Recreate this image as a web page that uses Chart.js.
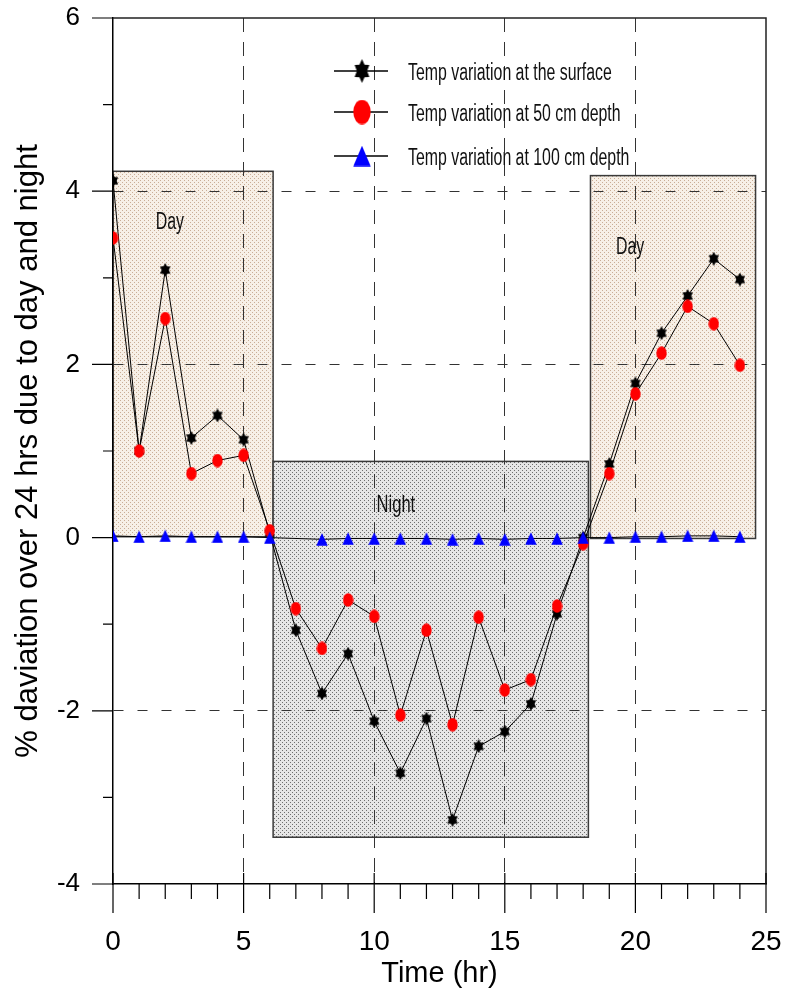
<!DOCTYPE html>
<html>
<head>
<meta charset="utf-8">
<script src="https://cdn.jsdelivr.net/npm/chart.js@4.4.1/dist/chart.umd.min.js"></script>
<style>
html,body{margin:0;padding:0;background:#fff;}
#wrap{width:786px;height:996px;position:relative;}
</style>
</head>
<body>
<div id="wrap"><canvas id="c" width="786" height="996"></canvas></div>
<script>
// ---------------- data ----------------
const hours = [0,1,2,3,4,5,6,7,8,9,10,11,12,13,14,15,16,17,18,19,20,21,22,23,24];
const surface  = [4.12,1.00,3.09,1.15,1.41,1.13,0.05,-1.07,-1.80,-1.34,-2.12,-2.72,-2.09,-3.26,-2.41,-2.24,-1.92,-0.88,0.00,0.85,1.78,2.36,2.79,3.22,2.98];
const depth50  = [3.46,1.00,2.53,0.74,0.89,0.95,0.08,-0.82,-1.28,-0.72,-0.91,-2.05,-1.07,-2.16,-0.92,-1.76,-1.64,-0.79,-0.07,0.74,1.66,2.13,2.67,2.47,1.99];
const depth100 = [0.02,0.01,0.02,0.01,0.01,0.01,0.00,null,-0.02,-0.01,-0.01,-0.01,-0.01,-0.02,-0.01,-0.02,-0.01,-0.01,0.00,0.00,0.01,0.01,0.02,0.02,0.01];
const seriesNames = ['Temp variation at the surface','Temp variation at 50 cm depth','Temp variation at 100 cm depth'];

// shaded periods (time range and value range)
const periodNames  = ['Day','Night','Day'];
const periodStart  = [0, 6.13, 18.28];
const periodEnd    = [6.13, 18.2, 24.6];
const periodTop    = [4.23, 0.88, 4.18];
const periodBottom = [0.01, -3.46, -0.01];
// label anchors (data coords)
const periodLabelX = [2.18, 10.83, 19.8];
const periodLabelY = [3.56, 0.30, 3.28];

const xTickStep = 5;
const yTickStep = 2;

// ---------------- marker images ----------------
function starImg(w,h){
  const c=document.createElement('canvas'); c.width=w; c.height=h;
  const g=c.getContext('2d'); g.fillStyle='#000';
  const cx=w/2, cy=h/2, rx=w/2, ry=h/2;
  g.beginPath();
  for(let i=0;i<12;i++){
    const a=-Math.PI/2+i*Math.PI/6; const r=(i%2===0)?1:0.6;
    g.lineTo(cx+Math.cos(a)*rx*r, cy+Math.sin(a)*ry*r);
  }
  g.closePath(); g.fill(); return c;
}
function ellipseImg(w,h){
  const c=document.createElement('canvas'); c.width=w; c.height=h;
  const g=c.getContext('2d'); g.fillStyle='#ff0000';
  g.beginPath(); g.ellipse(w/2,h/2,w/2-0.3,h/2-0.3,0,0,Math.PI*2); g.fill(); return c;
}
function triImg(w,h){
  const c=document.createElement('canvas'); c.width=w; c.height=h;
  const g=c.getContext('2d'); g.fillStyle='#0000ff';
  g.beginPath(); g.moveTo(w/2,0.3); g.lineTo(w-0.3,h-0.3); g.lineTo(0.3,h-0.3); g.closePath(); g.fill(); return c;
}
const mk = [starImg(12,14), ellipseImg(11,14), triImg(12,13)];
const mkLegend = [starImg(17,24), ellipseImg(18,25), triImg(18,21)];

function makePattern(ctx, base, dot){
  const c=document.createElement('canvas'); c.width=4; c.height=4;
  const g=c.getContext('2d'); g.fillStyle=base; g.fillRect(0,0,4,4);
  g.fillStyle=dot; g.fillRect(0,0,1,1); g.fillRect(2,2,1,1);
  return ctx.createPattern(c,'repeat');
}

const SQ = 0.69; // horizontal squeeze of annotation text
const annoFont = 'Liberation Sans, Arial, sans-serif';

const periodsPlugin = {
  id:'periods',
  beforeDraw(chart){
    const {ctx, scales:{x,y}} = chart;
    const dayFill = makePattern(ctx,'#f7f0e7','#c9ad96');
    const nightFill = makePattern(ctx,'#e6e6e6','#6e6e6e');
    for(let i=0;i<periodNames.length;i++){
      const x0=x.getPixelForValue(periodStart[i]), x1=x.getPixelForValue(periodEnd[i]);
      const y0=y.getPixelForValue(periodTop[i]), y1=y.getPixelForValue(periodBottom[i]);
      ctx.save();
      ctx.fillStyle = periodNames[i]==='Night'?nightFill:dayFill;
      ctx.fillRect(x0,y0,x1-x0,y1-y0);
      ctx.strokeStyle='#3a3a3a'; ctx.lineWidth=1.5;
      ctx.strokeRect(x0,y0,x1-x0,y1-y0);
      ctx.restore();
    }
  },
  afterDraw(chart){
    const {ctx, chartArea:a, scales:{x,y}} = chart;
    ctx.save();
    // top & right frame
    ctx.strokeStyle='#222'; ctx.lineWidth=1.5;
    ctx.beginPath(); ctx.moveTo(a.left,a.top); ctx.lineTo(a.right,a.top); ctx.lineTo(a.right,a.bottom); ctx.stroke();
    // ticks
    ctx.strokeStyle='#000'; ctx.lineWidth=1.2;
    ctx.beginPath();
    for(let v=y.min; v<=y.max; v+=1){
      const p=y.getPixelForValue(v);
      const major = (v % yTickStep)===0;
      ctx.moveTo(a.left - (major?21:10), p); ctx.lineTo(a.left, p);
    }
    for(let h=x.min; h<=x.max; h+=1){
      const p=x.getPixelForValue(h);
      const major = (h % xTickStep)===0;
      if(major){ ctx.moveTo(p,a.bottom-11); ctx.lineTo(p,a.bottom+29); }
      else { ctx.moveTo(p,a.bottom); ctx.lineTo(p,a.bottom+15); }
    }
    ctx.stroke();
    // period labels
    ctx.fillStyle='#111'; ctx.textBaseline='alphabetic'; ctx.textAlign='center';
    for(let i=0;i<periodNames.length;i++){
      const px=x.getPixelForValue(periodLabelX[i]), py=y.getPixelForValue(periodLabelY[i]);
      ctx.save(); ctx.translate(px,py); ctx.scale(SQ,1);
      ctx.font = (periodNames[i]==='Night'?'24px ':'23px ') + annoFont;
      ctx.fillText(periodNames[i],0,0); ctx.restore();
    }
    ctx.restore();
  },
  afterDatasetsDraw(chart){
    // legend inside the plot
    const {ctx} = chart;
    const rows=[71,112,156];
    ctx.save();
    for(let i=0;i<3;i++){
      const ry=rows[i];
      ctx.strokeStyle='#000'; ctx.lineWidth=1.3;
      ctx.beginPath(); ctx.moveTo(334,ry); ctx.lineTo(388,ry); ctx.stroke();
      const im=mkLegend[i];
      ctx.drawImage(im, 362-im.width/2, ry-im.height/2);
      ctx.save(); ctx.translate(408, ry+9); ctx.scale(SQ,1);
      ctx.font='23px '+annoFont; ctx.fillStyle='#111'; ctx.textAlign='left'; ctx.textBaseline='alphabetic';
      ctx.fillText(seriesNames[i],0,0); ctx.restore();
    }
    ctx.restore();
  }
};

const ctx = document.getElementById('c').getContext('2d');
const mkData = arr => hours.map((h,i)=>({x:h,y:arr[i]}));

new Chart(ctx, {
  type:'line',
  data:{
    datasets:[
      {label:seriesNames[0], data:mkData(surface), borderColor:'#000', borderWidth:1, pointStyle:mk[0], pointRadius:6, order:3, tension:0},
      {label:seriesNames[1], data:mkData(depth50), borderColor:'#000', borderWidth:1, pointStyle:mk[1], pointRadius:6, order:2, tension:0},
      {label:seriesNames[2], data:mkData(depth100), borderColor:'#000', borderWidth:1, pointStyle:mk[2], pointRadius:6, order:1, tension:0, spanGaps:true}
    ]
  },
  options:{
    responsive:false, animation:false, devicePixelRatio:1,
    layout:{padding:{top:18,right:20,left:0,bottom:0}},
    plugins:{legend:{display:false}, tooltip:{enabled:false}},
    scales:{
      x:{
        type:'linear', min:0, max:25,
        afterFit(s){ s.height=112; s.paddingLeft=0; s.paddingRight=0; },
        ticks:{stepSize:xTickStep, padding:41, color:'#000', font:{family:'Liberation Sans, Arial, sans-serif', size:28}, maxRotation:0},
        grid:{drawTicks:false, color:c=>(c.tick && (c.tick.value===0||c.tick.value===25))?'rgba(0,0,0,0)':'#333', lineWidth:1},
        border:{display:true, color:'#000', width:1.5, dash:[14,10]},
        title:{display:true, text:'Time (hr)', color:'#000', font:{family:'Liberation Sans, Arial, sans-serif', size:29}, padding:{top:0,bottom:5}}
      },
      y:{
        type:'linear', min:-4, max:6,
        afterFit(s){ s.width=113; s.paddingTop=0; s.paddingBottom=0; },
        ticks:{stepSize:yTickStep, padding:33, color:'#000', font:{family:'Liberation Sans, Arial, sans-serif', size:26}},
        grid:{drawTicks:false, color:c=>(c.tick && (c.tick.value===6||c.tick.value===-4||c.tick.value===0))?'rgba(0,0,0,0)':'#333', lineWidth:1},
        border:{display:true, color:'#000', width:1.5, dash:[10,14]},
        title:{display:true, text:'% daviation over 24 hrs due to day and night', color:'#000', font:{family:'Liberation Sans, Arial, sans-serif', size:31}, padding:{top:10,bottom:0}}
      }
    }
  },
  plugins:[periodsPlugin]
});
</script>
</body>
</html>
